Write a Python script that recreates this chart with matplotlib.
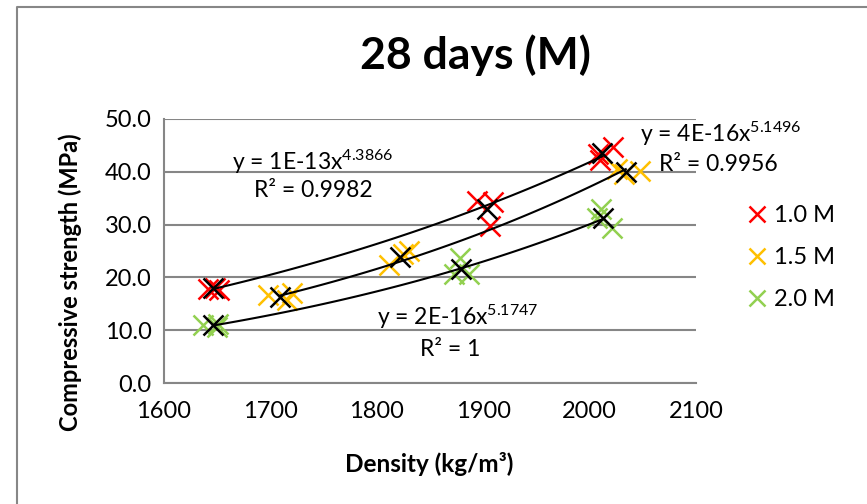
import numpy as np
import matplotlib
matplotlib.use("Agg")
import matplotlib.pyplot as plt
from matplotlib.lines import Line2D

plt.rcParams['font.family'] = ['Lato', 'DejaVu Sans']
plt.rcParams['mathtext.fontset'] = 'custom'
plt.rcParams['mathtext.rm'] = 'Lato'
plt.rcParams['mathtext.it'] = 'Lato'

# individual specimens (density kg/m3, strength MPa)
dens_10 = [1641, 1648, 1652, 1894, 1909, 1906, 2008, 2022, 2010]
str_10 = [17.8, 18.0, 17.6, 34.5, 34.2, 29.8, 43.4, 44.7, 42.3]
dens_15 = [1698, 1716, 1720, 1811, 1825, 1830, 2026, 2047, 2032]
str_15 = [16.6, 15.7, 17.0, 22.4, 24.4, 25.0, 40.5, 40.2, 39.6]
dens_20 = [1637, 1651, 1650, 1878, 1873, 1887, 2011, 2007, 2021]
str_20 = [11.0, 11.2, 10.6, 23.6, 20.6, 20.6, 33.0, 31.2, 29.4]

# averages (black crosses), trendlines are fitted on these
avg_dens_10 = [1646, 1904, 2012]
avg_str_10 = [17.9, 33.0, 43.6]
avg_dens_15 = [1709, 1822, 2034]
avg_str_15 = [16.2, 23.8, 40.0]
avg_dens_20 = [1646, 1879, 2013]
avg_str_20 = [10.9, 21.6, 31.2]

labels = ["1.0 M", "1.5 M", "2.0 M"]
colors = ["#FF0000", "#FFC000", "#92D050"]
equations = [r"y = 1E-13x$^{4.3866}$", r"y = 4E-16x$^{5.1496}$", r"y = 2E-16x$^{5.1747}$"]
r2_texts = ["R² = 0.9982", "R² = 0.9956", "R² = 1"]

fig = plt.figure(figsize=(8.67, 5.04), dpi=100)
ax = fig.add_axes([164/867, 1-383/504, (696-164)/867, (383-119)/504])

grid_c = "#868686"
ax.set_xlim(1600, 2100)
ax.set_ylim(0, 50)
ax.set_xticks([1600, 1700, 1800, 1900, 2000, 2100])
ax.set_yticks([0, 10, 20, 30, 40, 50])
ax.set_yticklabels(["%.1f" % v for v in [0, 10, 20, 30, 40, 50]])
ax.tick_params(length=0, labelsize=17)
ax.tick_params(axis='x', pad=13)
ax.tick_params(axis='y', pad=9)
ax.grid(axis='y', color=grid_c, linewidth=1.5)
ax.set_axisbelow(True)
for s in ['top', 'right']:
    ax.spines[s].set_visible(False)
for s in ['left', 'bottom']:
    ax.spines[s].set_color(grid_c)
    ax.spines[s].set_linewidth(1.5)

mk = dict(marker='x', linestyle='none', markersize=14, markeredgewidth=1.8)
series = [(dens_10, str_10), (dens_15, str_15), (dens_20, str_20)]
avgs = [(avg_dens_10, avg_str_10), (avg_dens_15, avg_str_15), (avg_dens_20, avg_str_20)]

for (d, s), c, lab in zip(series, colors, labels):
    ax.plot(d, s, color=c, label=lab, **mk)

for d, s in avgs:
    ax.plot(d, s, color='black', **mk)
    # power trendline y = a x^b
    b, lna = np.polyfit(np.log(d), np.log(s), 1)
    xs = np.linspace(min(d), max(d), 100)
    ax.plot(xs, np.exp(lna) * xs ** b, color='black', linewidth=1.5)

# trendline labels
fs = 16.5
ax.text(1740, 41.9, equations[0], fontsize=fs, ha='center', va='center')
ax.text(1740, 36.4, r2_texts[0], fontsize=fs, ha='center', va='center')
ax.text(2047, 47.2, equations[1], fontsize=fs, ha='left', va='center')
ax.text(2065, 41.3, r2_texts[1], fontsize=fs, ha='left', va='center')
ax.text(1800, 12.5, equations[2], fontsize=fs, ha='left', va='center')
ax.text(1869, 6.4, r2_texts[2], fontsize=fs, ha='center', va='center')

ax.legend(loc='upper left', bbox_to_anchor=(746/867, 1-205/504), bbox_transform=fig.transFigure,
          frameon=False, fontsize=17, handlelength=0.95, handletextpad=0.25,
          labelspacing=0.9, borderpad=0, borderaxespad=0, markerscale=0.85)

fig.text(475/867, 1-55/504, "28 days (M)", fontsize=32, fontweight='bold', ha='center', va='center')
fig.text(70/867, 1-282/504, "Compressive strength (MPa)", fontsize=17, fontweight='bold',
         rotation=90, ha='center', va='center')
fig.text(429/867, 1-464/504, "Density (kg/m³)", fontsize=17.5, fontweight='bold', ha='center', va='center')

# chart border (left and top edges visible)
fig.add_artist(Line2D([17/867, 17/867, 1], [0, 1-7/504, 1-7/504], transform=fig.transFigure,
                      color="#878787", linewidth=1.5))

fig.savefig("out.png", dpi=100)
